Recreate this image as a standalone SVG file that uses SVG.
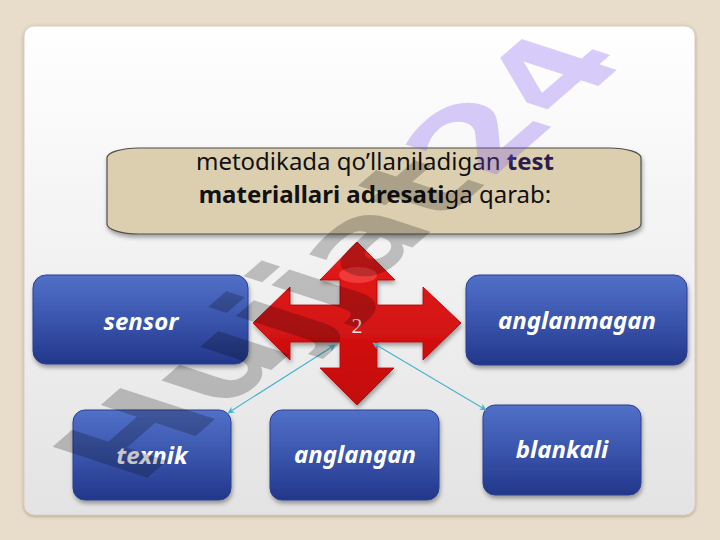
<svg xmlns="http://www.w3.org/2000/svg" width="720" height="540" viewBox="0 0 720 540">
  <defs>
    <linearGradient id="panelGrad" x1="0" y1="0" x2="0" y2="1">
      <stop offset="0" stop-color="#ffffff"/>
      <stop offset="1" stop-color="#e3e3e3"/>
    </linearGradient>
    <linearGradient id="blueGrad" x1="0" y1="0" x2="0" y2="1">
      <stop offset="0" stop-color="#5270c8"/>
      <stop offset="0.5" stop-color="#3a55ad"/>
      <stop offset="1" stop-color="#22378a"/>
    </linearGradient>
    <linearGradient id="redGrad" x1="0" y1="0" x2="0" y2="1">
      <stop offset="0" stop-color="#e81c1c"/>
      <stop offset="1" stop-color="#c20a0a"/>
    </linearGradient>
    <filter id="shadow" x="-10%" y="-10%" width="120%" height="130%">
      <feDropShadow dx="1" dy="3" stdDeviation="2" flood-color="#000" flood-opacity="0.35"/>
    </filter>
    <filter id="panelShadow" x="-5%" y="-5%" width="110%" height="110%">
      <feDropShadow dx="0" dy="1" stdDeviation="1.5" flood-color="#6b5f4a" flood-opacity="0.5"/>
    </filter>
    <marker id="tip" viewBox="0 0 10 10" refX="9" refY="5" markerWidth="7" markerHeight="7" orient="auto-start-reverse" markerUnits="userSpaceOnUse">
      <path d="M0,0 L10,5 L0,10 L3,5 Z" fill="#45b4cc"/>
    </marker>
    <style>
      .node rect.box { fill: url(#blueGrad); stroke: #2a3f8f; stroke-width: 1; filter: url(#shadow); }
      .node text { font-family: "Noto Sans", "DejaVu Sans", sans-serif; font-weight: bold; font-style: italic; font-size: 24px; fill: #ffffff; text-anchor: middle; }
      .title { font-family: "Noto Sans", "DejaVu Sans", sans-serif; font-size: 24px; fill: #111111; text-anchor: middle; }
      .conn { stroke: #45b4cc; stroke-width: 1.1; fill: none; marker-start: url(#tip); marker-end: url(#tip); }
      .wm { font-family: "DejaVu Sans", sans-serif; font-weight: bold; font-size: 137px; }
    </style>
  </defs>

  <rect x="0" y="0" width="720" height="540" fill="#e8dcca"/>
  <rect x="24" y="26" width="671" height="489" rx="10" ry="10" fill="url(#panelGrad)" stroke="#d8d0c0" stroke-width="1" filter="url(#panelShadow)"/>

  <g id="title">
    <rect x="107" y="148" width="534" height="86" rx="32" ry="10" fill="#dccfb0" stroke="#4f4f4f" stroke-width="1.2" filter="url(#shadow)"/>
    <text class="title" x="375" y="170">metodikada qo’llaniladigan <tspan font-weight="bold" fill="#2b1b50">test</tspan></text>
    <text class="title" x="375" y="203"><tspan font-weight="bold">materiallari adresati</tspan>ga qarab:</text>
  </g>

  <g id="node-sensor" class="node">
    <rect class="box" x="33" y="275" width="215" height="89" rx="13"/>
    <text x="141" y="330">sensor</text>
  </g>
  <g id="node-anglanmagan" class="node">
    <rect class="box" x="466" y="275" width="221" height="90" rx="13"/>
    <text x="577" y="329">anglanmagan</text>
  </g>
  <g id="node-texnik" class="node">
    <rect class="box" x="73" y="410" width="158" height="90" rx="12"/>
    <text x="152" y="464">texnik</text>
  </g>
  <g id="node-anglangan" class="node">
    <rect class="box" x="270" y="410" width="169" height="90" rx="12"/>
    <text x="355" y="463">anglangan</text>
  </g>
  <g id="node-blankali" class="node">
    <rect class="box" x="483" y="405" width="158" height="90" rx="12"/>
    <text x="562" y="458">blankali</text>
  </g>

  <g id="center-arrow">
    <polygon points="357,242 395,280 377,280 377,305 423,305 423,287 461,323 423,360 423,342 377,342 377,368 394,368 357,405 320,368 340,368 340,342 290,342 290,360 253,323 290,287 290,305 340,305 340,280 320,280" fill="url(#redGrad)" stroke="#b00000" stroke-width="0.8" filter="url(#shadow)"/>
    <ellipse cx="358" cy="275" rx="19" ry="8" fill="#f03a3a"/>
    <text x="357" y="333" font-family="Liberation Serif, serif" font-size="22" fill="#fde4e4" text-anchor="middle">2</text>
  </g>

  <g id="connectors">
    <line class="conn" x1="335" y1="345" x2="228" y2="413"/>
    <line class="conn" x1="373" y1="343" x2="486" y2="410"/>
  </g>

  <g id="watermark" transform="matrix(0.755 -0.656 0.95 0.31 138 486)">
    <text class="wm" x="0" y="0"><tspan fill="#000000" fill-opacity="0.22">Hujjat</tspan><tspan fill="#7850f0" fill-opacity="0.28">24</tspan></text>
  </g>
</svg>
